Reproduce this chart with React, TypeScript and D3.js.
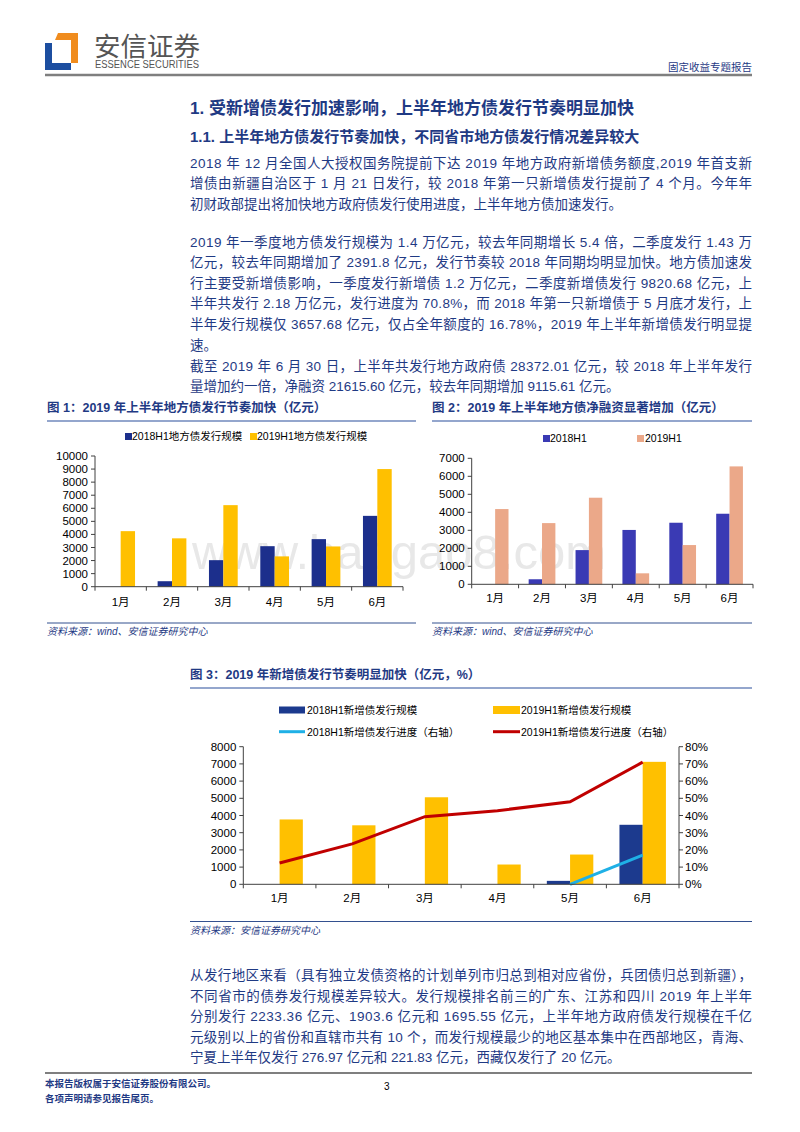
import * as d3 from "d3";
import React from "react";

// chart data
const months = ["1月", "2月", "3月", "4月", "5月", "6月"];

// 图1 地方债发行规模（亿元）
const issue2018 = [0, 420, 2030, 3100, 3640, 5420];
const issue2019 = [4250, 3700, 6240, 2320, 3080, 9000];

// 图2 地方债净融资（亿元）
const net2018 = [0, 280, 1900, 3020, 3420, 3920];
const net2019 = [4180, 3400, 4810, 610, 2180, 6550];

// 图3 新增债发行规模（亿元）与发行进度（%）
const newBond2018 = [0, 0, 0, 0, 200, 3460];
const newBond2019 = [3770, 3430, 5060, 1150, 1730, 7120];
const progress2018: (number | null)[] = [null, null, null, null, 0, 17];
const progress2019 = [12.4, 23.5, 39.3, 42.8, 48, 71];

const ticks1 = d3.range(0, 10001, 1000);
const ticks2 = d3.range(0, 7001, 1000);
const ticks3 = d3.range(0, 8001, 1000);
const ticksPct = d3.range(0, 81, 10);

const legend1 = ["2018H1地方债发行规模", "2019H1地方债发行规模"];
const legend2 = ["2018H1", "2019H1"];
const legend3 = [
  "2018H1新增债发行规模",
  "2019H1新增债发行规模",
  "2018H1新增债发行进度（右轴）",
  "2019H1新增债发行进度（右轴）",
];

const para1 = [
  "2018 年 12 月全国人大授权国务院提前下达 2019 年地方政府新增债务额度,2019 年首支新",
  "增债由新疆自治区于 1 月 21 日发行，较 2018 年第一只新增债发行提前了 4 个月。今年年",
  "初财政部提出将加快地方政府债发行使用进度，上半年地方债加速发行。",
];
const para2 = [
  "2019 年一季度地方债发行规模为 1.4 万亿元，较去年同期增长 5.4 倍，二季度发行 1.43 万",
  "亿元，较去年同期增加了 2391.8 亿元，发行节奏较 2018 年同期均明显加快。地方债加速发",
  "行主要受新增债影响，一季度发行新增债 1.2 万亿元，二季度新增债发行 9820.68 亿元，上",
  "半年共发行 2.18 万亿元，发行进度为 70.8%，而 2018 年第一只新增债于 5 月底才发行，上",
  "半年发行规模仅 3657.68 亿元，仅占全年额度的 16.78%，2019 年上半年新增债发行明显提",
  "速。",
];
const para3 = [
  "截至 2019 年 6 月 30 日，上半年共发行地方政府债 28372.01 亿元，较 2018 年上半年发行",
  "量增加约一倍，净融资 21615.60 亿元，较去年同期增加 9115.61 亿元。",
];
const para4 = [
  "从发行地区来看（具有独立发债资格的计划单列市归总到相对应省份，兵团债归总到新疆），",
  "不同省市的债券发行规模差异较大。发行规模排名前三的广东、江苏和四川 2019 年上半年",
  "分别发行 2233.36 亿元、1903.6 亿元和 1695.55 亿元，上半年地方政府债发行规模在千亿",
  "元级别以上的省份和直辖市共有 10 个，而发行规模最少的地区基本集中在西部地区，青海、",
  "宁夏上半年仅发行 276.97 亿元和 221.83 亿元，西藏仅发行了 20 亿元。",
];

const BLUE = "#1f3a84";
const FONT = "'Liberation Sans', Arial, 'Noto Sans CJK SC', sans-serif";
const AXIS = "#404040";

function Para({ lines, y0, step = 20.6 }: { lines: string[]; y0: number; step?: number }) {
  return (
    <g fontSize={13.5} fill={BLUE}>
      {lines.map((l, i) => (
        <text
          key={i}
          x={190}
          y={y0 + i * step}
          {...(i < lines.length - 1 ? { textLength: 562, lengthAdjust: "spacing" } : {})}
        >
          {l}
        </text>
      ))}
    </g>
  );
}

function FigHeader({ x, x2, y, title }: { x: number; x2: number; y: number; title: string }) {
  return (
    <g>
      <text x={x} y={y} fontSize={12.5} fontWeight="bold" fill={BLUE}>{title}</text>
      <line x1={x} x2={x2} y1={y + 9} y2={y + 9} stroke="#7089bd" strokeWidth={1.4} />
    </g>
  );
}

function Source({ x, x2, y, text }: { x: number; x2: number; y: number; text: string }) {
  return (
    <g>
      <line x1={x} x2={x2} y1={y} y2={y} stroke="#33508f" strokeWidth={1} />
      <text x={x} y={y + 12} fontSize={10} fontStyle="italic" fill={BLUE}>{text}</text>
    </g>
  );
}

function BarChart({
  left, right, y0, yTop, max, ticks, a, b, colA, colB, frac, labelY,
}: {
  left: number; right: number; y0: number; yTop: number; max: number; ticks: number[];
  a: number[]; b: number[]; colA: string; colB: string; frac: number; labelY: number;
}) {
  const x = d3.scaleBand<string>().domain(months).range([left, right]);
  const y = d3.scaleLinear().domain([0, max]).range([y0, yTop]);
  const bw = x.bandwidth() * frac;
  return (
    <g fontSize={11.5}>
      {months.map((m, i) => {
        const cx = (x(m) ?? 0) + x.bandwidth() / 2;
        return (
          <g key={m}>
            <rect x={cx - bw} y={y(a[i])} width={bw} height={y0 - y(a[i])} fill={colA} />
            <rect x={cx} y={y(b[i])} width={bw} height={y0 - y(b[i])} fill={colB} />
            <text x={cx} y={labelY} textAnchor="middle" fill="#000">{m}</text>
          </g>
        );
      })}
      <line x1={left} x2={left} y1={y0} y2={yTop} stroke={AXIS} />
      {ticks.map((t) => (
        <g key={t}>
          <line x1={left - 4} x2={left} y1={y(t)} y2={y(t)} stroke={AXIS} />
          <text x={left - 7} y={y(t)} dy="0.35em" textAnchor="end" fill="#000">{t}</text>
        </g>
      ))}
      <line x1={left} x2={right} y1={y0} y2={y0} stroke={AXIS} />
      {d3.range(0, months.length + 1).map((i) => {
        const px = left + i * x.step();
        return <line key={i} x1={px} x2={px} y1={y0} y2={y0 + 4} stroke={AXIS} />;
      })}
    </g>
  );
}

function Chart3() {
  const left = 243.3, right = 679, y0 = 884.3, yTop = 746.7;
  const x = d3.scaleBand<string>().domain(months).range([left, right]);
  const y = d3.scaleLinear().domain([0, 8000]).range([y0, yTop]);
  const yr = d3.scaleLinear().domain([0, 80]).range([y0, yTop]);
  const bw = x.bandwidth() * 0.32;
  const cx = (m: string) => (x(m) ?? 0) + x.bandwidth() / 2;
  const line = d3
    .line<number | null>()
    .defined((d) => d !== null)
    .x((_, i) => cx(months[i]))
    .y((d) => yr(d as number));
  return (
    <g fontSize={11.5}>
      {/* legend */}
      <g fontSize={10.5} fill="#000">
        <rect x={279} y={706.5} width={26} height={7} fill="#1c3a8e" />
        <text x={307} y={714}>{legend3[0]}</text>
        <rect x={493} y={706} width={27} height={8} fill="#ffc000" />
        <text x={521} y={714}>{legend3[1]}</text>
        <line x1={279} x2={305} y1={731.7} y2={731.7} stroke="#1fb0e6" strokeWidth={3} />
        <text x={307} y={735.5}>{legend3[2]}</text>
        <line x1={493} x2={520} y1={731.7} y2={731.7} stroke="#c00000" strokeWidth={3} />
        <text x={521} y={735.5}>{legend3[3]}</text>
      </g>
      {months.map((m, i) => (
        <g key={m}>
          <rect x={cx(m) - bw} y={y(newBond2018[i])} width={bw} height={y0 - y(newBond2018[i])} fill="#1c3a8e" />
          <rect x={cx(m)} y={y(newBond2019[i])} width={bw} height={y0 - y(newBond2019[i])} fill="#ffc000" />
          <text x={cx(m)} y={902} textAnchor="middle" fill="#000">{m}</text>
        </g>
      ))}
      <path d={line(progress2019) ?? ""} fill="none" stroke="#c00000" strokeWidth={3} />
      <path d={line(progress2018) ?? ""} fill="none" stroke="#1fb0e6" strokeWidth={3} />
      <line x1={left} x2={left} y1={y0} y2={yTop} stroke={AXIS} />
      {ticks3.map((t) => (
        <g key={t}>
          <line x1={left - 4} x2={left} y1={y(t)} y2={y(t)} stroke={AXIS} />
          <text x={left - 7} y={y(t)} dy="0.35em" textAnchor="end" fill="#000">{t}</text>
        </g>
      ))}
      <line x1={right} x2={right} y1={y0} y2={yTop} stroke={AXIS} />
      {ticksPct.map((t) => (
        <g key={t}>
          <line x1={right} x2={right + 4} y1={yr(t)} y2={yr(t)} stroke={AXIS} />
          <text x={right + 6} y={yr(t)} dy="0.35em" fill="#000">{t}%</text>
        </g>
      ))}
      <line x1={left} x2={right} y1={y0} y2={y0} stroke={AXIS} />
      {d3.range(0, months.length + 1).map((i) => {
        const px = left + i * x.step();
        return <line key={i} x1={px} x2={px} y1={y0} y2={y0 + 4} stroke={AXIS} />;
      })}
    </g>
  );
}

export default function App() {
  return (
    <div style={{ position: "absolute", left: 0, top: 0, width: 800, height: 1132, background: "#fff" }}>
      <svg width={800} height={1132} style={{ display: "block", fontFamily: FONT }}>
        <rect width={800} height={1132} fill="#fff" />
        {/* header */}
        <polygon points="58,33 78,33 78,63 71,63 71,40 55,40" fill="#f08c1e" />
        <polygon points="45,43 52,43 52,63 71,63 71,70 45,70" fill="#1c4ea0" />
        <text x={94} y={56} fontSize={26.5} fill="#555">安信证券</text>
        <text x={95} y={68} fontSize={10} fill="#555" textLength={104} lengthAdjust="spacingAndGlyphs">ESSENCE SECURITIES</text>
        <text x={752} y={71} fontSize={10.5} fill={BLUE} textAnchor="end">固定收益专题报告</text>
        <line x1={45} x2={752} y1={75} y2={75} stroke="#7f7f7f" strokeWidth={2.5} />

        {/* headings and paragraphs */}
        <text x={190} y={114} fontSize={17} fontWeight="bold" fill={BLUE}>1. 受新增债发行加速影响，上半年地方债发行节奏明显加快</text>
        <text x={190} y={142} fontSize={15} fontWeight="bold" fill={BLUE}>1.1. 上半年地方债发行节奏加快，不同省市地方债发行情况差异较大</text>
        <Para lines={para1} y0={167.5} />
        <Para lines={para2} y0={246.5} />
        <Para lines={para3} y0={370.5} />

        {/* watermark */}
        <text x={192} y={569} fontSize={49} fill="#e8e8e8">www.baogao8.com</text>

        {/* 图1 */}
        <FigHeader x={47} x2={416} y={412} title="图 1：2019 年上半年地方债发行节奏加快（亿元）" />
        <g fontSize={10.5} fill="#000">
          <rect x={125} y={433} width={7} height={7} fill="#1c2f8c" />
          <text x={132} y={440}>{legend1[0]}</text>
          <rect x={250} y={433} width={7} height={7} fill="#ffc000" />
          <text x={257} y={440}>{legend1[1]}</text>
        </g>
        <BarChart left={95} right={403} y0={586.7} yTop={456} max={10000} ticks={ticks1}
          a={issue2018} b={issue2019} colA="#1c2f8c" colB="#ffc000" frac={0.28} labelY={606} />
        <Source x={47} x2={416} y={623} text="资料来源：wind、安信证券研究中心" />

        {/* 图2 */}
        <FigHeader x={432} x2={752} y={412} title="图 2：2019 年上半年地方债净融资显著增加（亿元）" />
        <g fontSize={10.5} fill="#000">
          <rect x={543} y={435} width={7} height={7} fill="#3a3ab4" />
          <text x={550} y={442}>{legend2[0]}</text>
          <rect x={637} y={435} width={7} height={7} fill="#eba889" />
          <text x={645} y={442}>{legend2[1]}</text>
        </g>
        <BarChart left={471.7} right={753} y0={584.3} yTop={458.3} max={7000} ticks={ticks2}
          a={net2018} b={net2019} colA="#3a3ab4" colB="#eba889" frac={0.285} labelY={602} />
        <Source x={432} x2={752} y={623} text="资料来源：wind、安信证券研究中心" />

        {/* 图3 */}
        <FigHeader x={190} x2={752} y={679} title="图 3：2019 年新增债发行节奏明显加快（亿元，%）" />
        <Chart3 />
        <Source x={190} x2={752} y={921.5} text="资料来源：安信证券研究中心" />

        <Para lines={para4} y0={980} />

        {/* footer */}
        <line x1={45} x2={752} y1={1073} y2={1073} stroke="#7f7f7f" strokeWidth={2} />
        <g fontSize={9.5} fontWeight="bold" fill={BLUE}>
          <text x={45} y={1087}>本报告版权属于安信证券股份有限公司。</text>
          <text x={45} y={1102}>各项声明请参见报告尾页。</text>
        </g>
        <text x={384} y={1090} fontSize={10} fill="#000">3</text>
      </svg>
    </div>
  );
}
